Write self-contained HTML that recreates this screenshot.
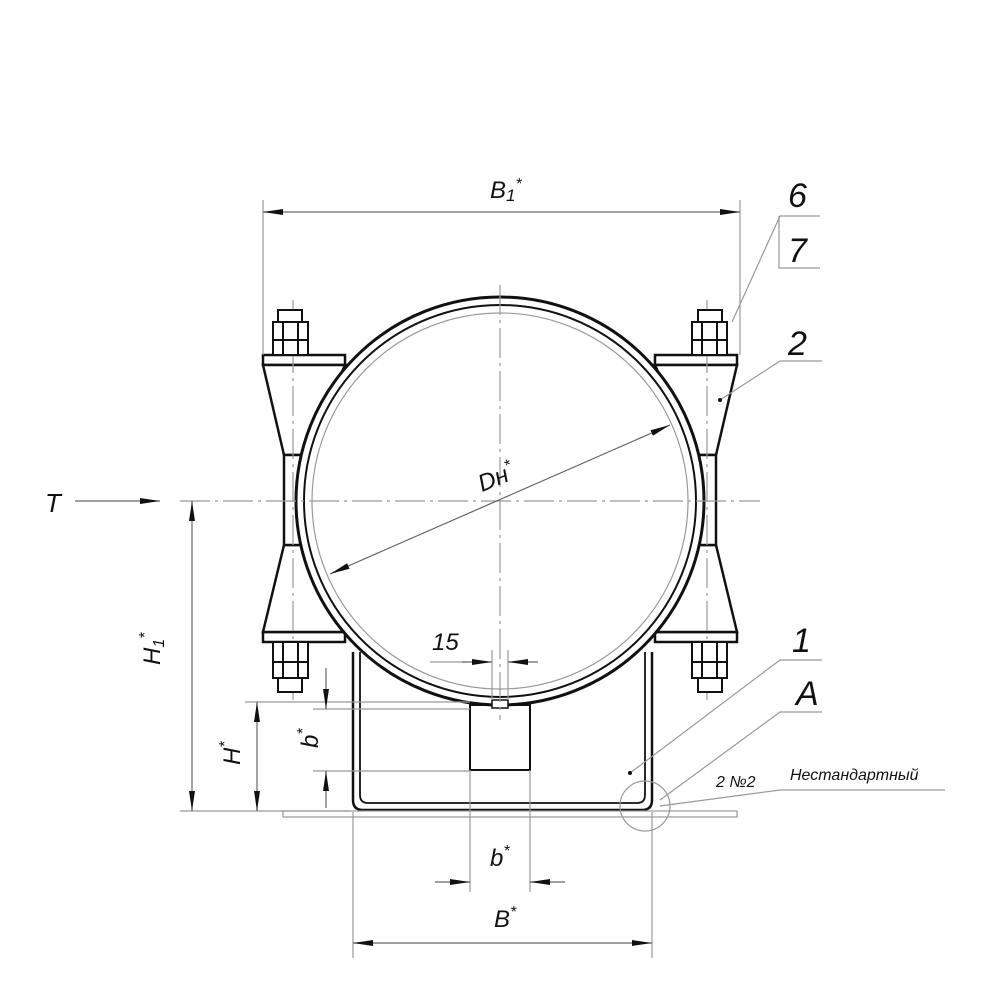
<!DOCTYPE html>
<html><head><meta charset="utf-8"><style>
html,body{margin:0;padding:0;background:#fff}
svg{display:block}
text{font-family:"Liberation Sans","DejaVu Sans",sans-serif;font-style:italic;fill:#111}
</style></head><body>
<svg width="1000" height="1000" viewBox="0 0 1000 1000" xmlns="http://www.w3.org/2000/svg">
<defs>
<marker id="ar" viewBox="0 0 20 8" refX="20" refY="4" markerWidth="20" markerHeight="8" markerUnits="userSpaceOnUse" orient="auto-start-reverse"><path d="M0,1 L20,4 L0,7 z" fill="#111"/></marker>
</defs>
<!-- U bracket -->
<g fill="none" stroke="#111" stroke-width="2.5">
<path d="M353,652 V800 Q353,810 363,810 H642 Q652,810 652,800 V652"/>
<path d="M360,652 V795 Q360,803 368,803 H637 Q645,803 645,795 V652" stroke-width="1.8"/>
<rect x="470" y="705" width="60" height="65" stroke-width="2"/>
</g>
<!-- lugs -->
<g fill="#fff" stroke="#111" stroke-width="2.5">
<rect x="263" y="355" width="82" height="10"/>
<polygon points="263,365 345,365 305,455 284,455"/>
<rect x="263" y="632" width="82" height="10"/>
<polygon points="263,632 345,632 305,545 284,545"/>
<rect x="284" y="455" width="18" height="90"/>
<rect x="655" y="355" width="82" height="10"/>
<polygon points="737,365 655,365 695,455 716,455"/>
<rect x="655" y="632" width="82" height="10"/>
<polygon points="737,632 655,632 695,545 716,545"/>
<rect x="698" y="455" width="18" height="90"/>
</g>
<!-- band -->
<circle cx="500" cy="501" r="200" fill="#fff" stroke="#fff" stroke-width="8"/>
<circle cx="500" cy="501" r="204" fill="none" stroke="#111" stroke-width="3"/>
<circle cx="500" cy="501" r="196" fill="none" stroke="#111" stroke-width="2"/>
<rect x="492" y="700" width="16" height="8" fill="#fff" stroke="#111" stroke-width="1.5"/>
<g fill="none" stroke="#999" stroke-width="1.2">
<line x1="180" y1="501" x2="760" y2="501" stroke-dasharray="30,5,3,5"/>
<line x1="500" y1="285" x2="500" y2="720" stroke-dasharray="30,5,3,5"/>
<line x1="293" y1="300" x2="293" y2="700" stroke-dasharray="30,5,3,5"/>
<line x1="707" y1="300" x2="707" y2="700" stroke-dasharray="30,5,3,5"/>
<line x1="263" y1="200" x2="263" y2="355"/>
<line x1="740" y1="200" x2="740" y2="355"/>
<line x1="180" y1="811" x2="350" y2="811"/>
<line x1="245" y1="702" x2="470" y2="702"/>
<line x1="313" y1="709" x2="470" y2="709"/>
<line x1="313" y1="771" x2="470" y2="771"/>
<line x1="470" y1="770" x2="470" y2="892"/>
<line x1="530" y1="770" x2="530" y2="892"/>
<line x1="492" y1="650" x2="492" y2="700"/>
<line x1="508" y1="650" x2="508" y2="700"/>
<line x1="353" y1="812" x2="353" y2="958"/>
<line x1="652" y1="812" x2="652" y2="958"/>
<line x1="430" y1="662" x2="465" y2="662"/>
<rect x="283" y="811" width="454" height="6"/>
<circle cx="500" cy="501" r="188"/>
<polyline points="732,322 780,216 820,216"/>
<polyline points="820,268 779,268 779,216"/>
<polyline points="720,400 780,361 822,361"/>
<polyline points="630,773 780,660 822,660"/>
<polyline points="660,800 780,712 822,712"/>
<polyline points="660,806 780,790 945,790"/>
<circle cx="645" cy="806" r="25"/>
</g>
<g stroke="#666" stroke-width="1.2" fill="none">
<line x1="263" y1="212" x2="740" y2="212" marker-start="url(#ar)" marker-end="url(#ar)"/>
<line x1="75" y1="501" x2="160" y2="501" marker-end="url(#ar)"/>
<line x1="192" y1="501" x2="192" y2="811" marker-start="url(#ar)" marker-end="url(#ar)"/>
<line x1="257" y1="702" x2="257" y2="811" marker-start="url(#ar)" marker-end="url(#ar)"/>
<line x1="326" y1="668" x2="326" y2="709" marker-end="url(#ar)"/>
<line x1="326" y1="808" x2="326" y2="771" marker-end="url(#ar)"/>
<line x1="462" y1="662" x2="492" y2="662" marker-end="url(#ar)"/>
<line x1="538" y1="662" x2="508" y2="662" marker-end="url(#ar)"/>
<line x1="435" y1="882" x2="470" y2="882" marker-end="url(#ar)"/>
<line x1="565" y1="882" x2="530" y2="882" marker-end="url(#ar)"/>
<line x1="353" y1="943" x2="652" y2="943" marker-start="url(#ar)" marker-end="url(#ar)"/>
<line x1="330" y1="574" x2="670" y2="425" marker-start="url(#ar)" marker-end="url(#ar)"/>
</g>
<!-- nuts -->
<g stroke="#111" stroke-width="2" fill="#fff">
<rect x="278" y="310" width="24" height="12"/><rect x="273" y="322" width="35" height="33"/>
<line x1="283" y1="322" x2="283" y2="355"/><line x1="298" y1="322" x2="298" y2="355"/><line x1="273" y1="340" x2="308" y2="340"/>
<rect x="698" y="310" width="24" height="12"/><rect x="692" y="322" width="35" height="33"/>
<line x1="702" y1="322" x2="702" y2="355"/><line x1="717" y1="322" x2="717" y2="355"/><line x1="692" y1="340" x2="727" y2="340"/>
<rect x="273" y="642" width="35" height="36"/><rect x="278" y="678" width="24" height="14"/>
<line x1="283" y1="642" x2="283" y2="678"/><line x1="298" y1="642" x2="298" y2="678"/><line x1="273" y1="662" x2="308" y2="662"/>
<rect x="692" y="642" width="35" height="36"/><rect x="698" y="678" width="24" height="14"/>
<line x1="702" y1="642" x2="702" y2="678"/><line x1="717" y1="642" x2="717" y2="678"/><line x1="692" y1="662" x2="727" y2="662"/>
</g>
<circle cx="720" cy="400" r="2" fill="#111"/>
<circle cx="630" cy="773" r="2" fill="#111"/>
<text x="490" y="198" font-size="24">B<tspan font-size="17" dy="3">1</tspan><tspan font-size="16" dy="-12">*</tspan></text>
<text x="45" y="512" font-size="26">T</text>
<text x="0" y="0" font-size="24" transform="translate(482,492) rotate(-22)">Dн<tspan font-size="16" dy="-10">*</tspan></text>
<text x="0" y="0" font-size="24" transform="translate(160,665) rotate(-90)">H<tspan font-size="16" dy="4">1</tspan><tspan font-size="16" dy="-14">*</tspan></text>
<text x="0" y="0" font-size="24" transform="translate(240,765) rotate(-90)">H<tspan font-size="16" dy="-10">*</tspan></text>
<text x="0" y="0" font-size="24" transform="translate(318,748) rotate(-90)">b<tspan font-size="16" dy="-10">*</tspan></text>
<text x="432" y="650" font-size="24">15</text>
<text x="490" y="866" font-size="24">b<tspan font-size="16" dy="-10">*</tspan></text>
<text x="494" y="927" font-size="24">B<tspan font-size="16" dy="-10">*</tspan></text>
<text x="788" y="207" font-size="34">6</text>
<text x="788" y="262" font-size="34">7</text>
<text x="788" y="355" font-size="34">2</text>
<text x="792" y="652" font-size="34">1</text>
<text x="796" y="705" font-size="34">A</text>
<text x="716" y="787" font-size="16">2 №2</text>
<text x="790" y="780" font-size="16">Нестандартный</text>
</svg>
</body></html>
